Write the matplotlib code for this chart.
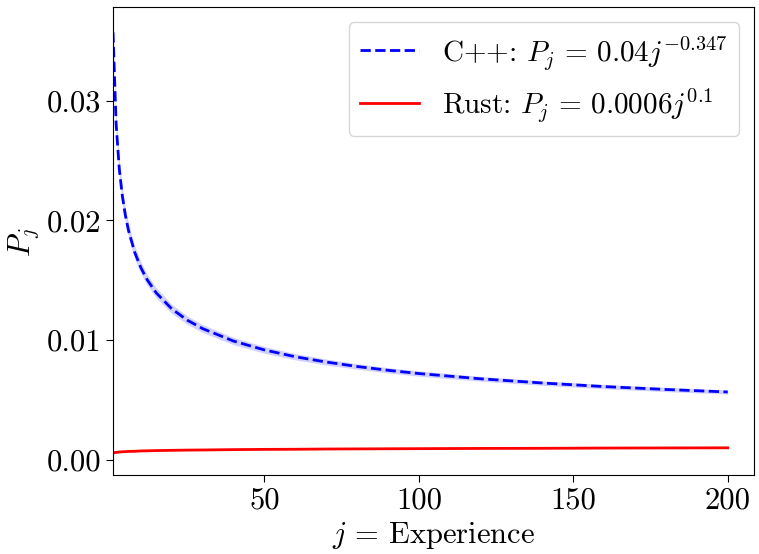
import matplotlib
matplotlib.use("Agg")
import matplotlib.pyplot as plt

plt.rcParams.update({
    "font.family": "serif",
    "font.serif": ["cmr10", "DejaVu Serif"],
    "mathtext.fontset": "cm",
    "axes.formatter.use_mathtext": True,
    "axes.unicode_minus": False,
})

# Experience values (j) at which the curves were read
j_vals = [1, 2, 3, 4, 5, 6, 8, 10, 12, 15, 20, 25, 30, 40, 50, 60, 70, 80, 90,
          100, 120, 140, 160, 180, 200]

# C++ curve
cpp_p = [0.0357, 0.02807, 0.02438, 0.02207, 0.02042, 0.01917, 0.01735, 0.01606,
         0.01507, 0.01395, 0.01262, 0.01168, 0.01097, 0.00993, 0.00919, 0.00862,
         0.00818, 0.00781, 0.00749, 0.00722, 0.00678, 0.00643, 0.00613, 0.00589,
         0.00568]
cpp_lo = [0.0346, 0.02723, 0.02365, 0.02141, 0.01981, 0.01859, 0.01683, 0.01558,
          0.01462, 0.01353, 0.01224, 0.01133, 0.01064, 0.00963, 0.00891, 0.00836,
          0.00793, 0.00758, 0.00727, 0.00700, 0.00658, 0.00624, 0.00595, 0.00571,
          0.00551]
cpp_hi = [0.0368, 0.02891, 0.02511, 0.02273, 0.02103, 0.01975, 0.01787, 0.01654,
          0.01552, 0.01437, 0.01300, 0.01203, 0.01130, 0.01023, 0.00947, 0.00888,
          0.00843, 0.00804, 0.00771, 0.00744, 0.00698, 0.00662, 0.00631, 0.00607,
          0.00585]

# Rust curve
rust_p = [0.00060, 0.00064, 0.00067, 0.00069, 0.00070, 0.00072, 0.00073, 0.00076,
          0.00077, 0.00079, 0.00081, 0.00083, 0.00084, 0.00087, 0.00089, 0.00090,
          0.00092, 0.00093, 0.00094, 0.00095, 0.00097, 0.00098, 0.00100, 0.00101,
          0.00102]
rust_lo = [0.00052, 0.00057, 0.00061, 0.00063, 0.00065, 0.00067, 0.00068, 0.00071,
           0.00073, 0.00075, 0.00077, 0.00079, 0.00080, 0.00083, 0.00085, 0.00086,
           0.00088, 0.00089, 0.00090, 0.00091, 0.00093, 0.00094, 0.00096, 0.00097,
           0.00098]
rust_hi = [0.00068, 0.00071, 0.00073, 0.00075, 0.00075, 0.00077, 0.00078, 0.00081,
           0.00081, 0.00083, 0.00085, 0.00087, 0.00088, 0.00091, 0.00093, 0.00094,
           0.00096, 0.00097, 0.00098, 0.00099, 0.00101, 0.00102, 0.00104, 0.00105,
           0.00106]

cpp_label = r"C++: $P_j\,=\,0.04j^{-0.347}$"
rust_label = r"Rust: $P_j\,=\,0.0006j^{0.1}$"
x_ticks = [50, 100, 150, 200]
y_ticks = [0.00, 0.01, 0.02, 0.03]
y_tick_labels = ["0.00", "0.01", "0.02", "0.03"]

fig = plt.figure(figsize=(7.59, 5.54), dpi=100)
ax = fig.add_axes([0.1489, 0.1417, 0.8445, 0.8448])

ax.fill_between(j_vals, cpp_lo, cpp_hi, color="blue", alpha=0.18, linewidth=0)
ax.fill_between(j_vals, rust_lo, rust_hi, color="red", alpha=0.18, linewidth=0)
ax.plot(j_vals, cpp_p, color="blue", linestyle="--", linewidth=2, label=cpp_label)
ax.plot(j_vals, rust_p, color="red", linestyle="-", linewidth=2, label=rust_label)

ax.set_xlim(1, 208.5)
ax.set_ylim(-0.00129, 0.03777)
ax.set_xticks(x_ticks)
ax.set_xticklabels([str(t) for t in x_ticks])
ax.set_yticks(y_ticks)
ax.set_yticklabels(y_tick_labels)
ax.tick_params(labelsize=22, length=5)

ax.set_xlabel(r"$j\,=\,$Experience", fontsize=22)
ax.set_ylabel(r"$P_j$", fontsize=22)

ax.legend(loc="upper right", fontsize=21)

fig.savefig("out.png", dpi=100)
